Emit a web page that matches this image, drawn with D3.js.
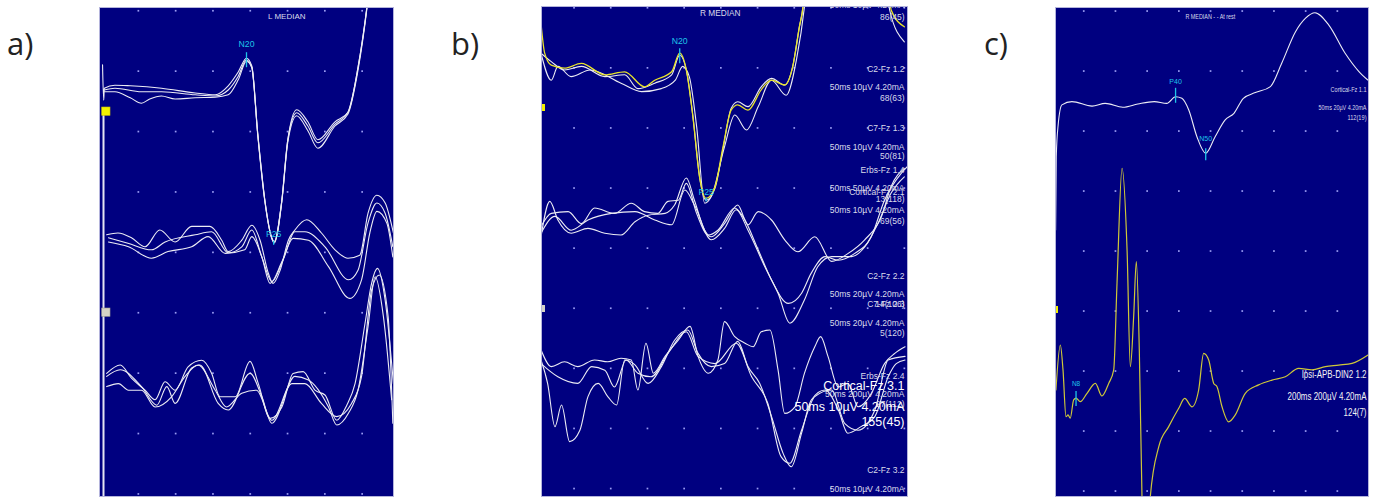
<!DOCTYPE html>
<html><head><meta charset="utf-8">
<script src="https://cdn.jsdelivr.net/npm/d3@7"></script>
<style>html,body{margin:0;padding:0;background:#fff;}svg{display:block;}</style>
</head><body>
<svg id="chart" width="1375" height="498"></svg>
<script>
// ---------------- DATA (time in ms, amplitude in µV) ----------------
// Panel a (L MEDIAN) – channel 1 (Cortical), 3 averaged traces
const aCh1T1 = [[0.6,4.7],[0.8,-1.2],[0.9,0.8],[2.7,1.3],[5.3,1.2],[10.6,0.8],[16.3,0],[19.7,-0.3],[21.9,1.2],[23.6,3.5],[25.0,5.8],[25.9,4.5],[26.9,-6.7],[28.1,-17.8],[29.3,-24.2],[29.7,-24.8],[31.0,-17.8],[32.0,-7.8],[33.5,-2.8],[35.4,-4.8],[37.1,-7.8],[40.0,-4.8],[42.2,-3.2],[43.9,4.3],[45.4,14.3],[46.3,22.2]];
const aCh1T2 = [[0.9,0.5],[2.7,0.8],[7.2,0.2],[10.6,0.2],[16.3,-0.3],[19.7,-0.5],[21.9,0.5],[23.6,2.8],[25.0,5.5],[25.9,4.3],[26.9,-6.7],[28.1,-17.8],[29.3,-24.2],[29.7,-24.8],[31.0,-17.8],[32.0,-7.8],[33.5,-3.3],[35.4,-5.5],[37.1,-8.3],[40.0,-5.2],[42.2,-3.2],[43.9,4.2],[45.4,14.2],[46.3,22.2]];
const aCh1T3 = [[0.9,0.2],[2.7,0.2],[5.3,-0.8],[7.2,-1.7],[8.6,-1.0],[10.6,-0.5],[12.9,-1.0],[16.3,-0.8],[19.7,-0.7],[21.9,-0.3],[23.6,2.2],[25.0,5.3],[25.9,4.2],[26.9,-7.0],[28.1,-18.0],[29.3,-24.3],[29.7,-25.0],[31.0,-18.0],[32.0,-8.2],[33.5,-3.8],[35.4,-6.3],[37.1,-9.2],[40.0,-5.5],[42.2,-3.5],[43.9,3.8],[45.4,14.0],[46.3,22.2]];
// Panel a – channel 2
const aCh2T1 = [[1.3,1.2],[3.2,1.5],[5.5,0.7],[7.8,-0.8],[10.3,2.0],[12.9,0.0],[15.7,2.6],[18.8,2.6],[20.8,0.3],[21.9,-1.6],[24.2,0.3],[25.9,2.8],[27.3,0.3],[28.7,-5.2],[29.5,-6.9],[30.7,-4.7],[32.1,0.3],[33.2,2.0],[35.2,3.7],[37.7,1.5],[40.0,-1.3],[42.2,-2.7],[44.2,-2.2],[45.6,4.8],[47.1,7.8],[48.5,6.5],[49.9,1.5]];
const aCh2T2 = [[1.6,0.7],[4.9,-0.2],[8.9,-1.3],[11.2,0.0],[16.3,1.2],[19.1,1.7],[21.9,-1.8],[24.2,-0.8],[25.9,2.0],[27.6,-2.5],[29.3,-6.6],[31.2,-3.0],[33.2,1.7],[34.9,1.7],[38.3,-0.8],[42.3,-6.3],[43.9,-4.7],[45.6,3.2],[47.1,6.5],[48.5,4.8],[49.8,-0.8]];
const aCh2T3 = [[1.6,0.0],[5.0,-0.8],[8.9,-2.7],[11.7,-1.6],[15.7,-0.8],[18.5,0.9],[21.4,-1.9],[24.7,-1.3],[25.9,0.9],[27.6,-2.5],[29.0,-6.9],[31.0,-3.3],[32.9,0.6],[35.5,0.3],[38.9,-4.1],[42.5,-9.4],[44.5,-6.3],[45.9,1.5],[47.1,5.1],[48.8,3.1],[49.8,-2.5]];
// Panel a – channel 3
const aCh3T1 = [[1.3,1.1],[3.6,2.5],[5.5,0.3],[7.8,-1.7],[9.5,-3.3],[11.2,-0.3],[12.9,-1.7],[15.1,2.2],[17.4,3.3],[19.1,1.1],[20.5,-2.8],[23.1,-2.8],[25.6,3.1],[27.0,-0.6],[29.0,-6.4],[31.0,-4.5],[32.9,1.1],[34.6,1.4],[36.6,-1.7],[38.3,-2.5],[40.3,-6.7],[42.0,-4.2],[43.4,-0.6],[45.1,9.5],[46.2,16.1],[47.2,18.6],[48.5,13.3],[49.9,-0.6]];
const aCh3T2 = [[1.3,0.6],[3.6,1.7],[7.2,-1.1],[9.8,-4.2],[11.5,-1.1],[12.9,-3.9],[15.7,2.0],[17.1,2.5],[20.2,-3.9],[21.9,-5.0],[25.6,1.1],[27.6,-2.8],[29.3,-7.2],[33.2,0.6],[35.5,0.0],[38.9,-4.5],[40.3,-7.5],[42.3,-5.5],[43.9,-1.7],[45.6,8.9],[46.8,17.2],[48.2,10.6],[49.6,-3.3]];
const aCh3T3 = [[1.3,-1.1],[3.3,-0.6],[5.0,-1.7],[7.2,-1.7],[9.5,-4.5],[12.3,-2.8],[14.6,0.6],[16.8,2.5],[19.7,-1.7],[21.6,-4.5],[24.2,-2.2],[26.7,-1.7],[29.3,-6.7],[32.7,-0.6],[34.9,-0.6],[37.7,-3.9],[40.3,-6.1],[42.8,-3.9],[44.5,0.6],[46.2,15.0],[47.5,17.5],[49.0,10.6],[49.8,-7.2]];

// Panel b (R MEDIAN) – channel 1: highlighted (yellow) trace + 2 white traces
const bCh1Y = [[0,7.8],[0.5,2.8],[1.4,0.8],[3.2,0.3],[5.5,1.1],[8.7,-0.8],[11.4,-0.3],[14.1,-2.8],[15.5,-1.7],[17.8,-0.3],[18.9,2.8],[19.8,0.0],[20.7,-7.8],[21.6,-17.8],[22.5,-21.4],[23.7,-19.5],[24.8,-12.8],[25.9,-6.7],[26.8,-5.8],[28.2,-6.7],[30.0,-3.3],[31.4,-1.7],[33.2,-2.5],[34.3,0.6],[35.2,7.2],[35.7,10.6],[36.1,16.7],[37,40],[46.6,40],[47.7,10.0],[49.5,7.2]];
const bCh1T1 = [[0,2.8],[1.4,1.4],[3.2,0.0],[5.5,0.6],[8.7,-1.1],[11.4,-0.8],[13.2,-3.1],[15.5,-2.2],[17.8,-0.8],[18.9,2.5],[19.8,0.0],[20.7,-7.8],[21.6,-17.8],[22.5,-21.7],[23.7,-19.7],[24.8,-13.1],[25.9,-6.4],[26.8,-5.3],[28.2,-6.1],[30.0,-2.8],[31.4,-1.4],[33.2,-2.5],[34.3,0.6],[35.2,7.2],[35.7,10.6],[36.1,16.7],[37,40],[46.4,40],[47.5,10.0],[49.5,4.7]];
const bCh1T2 = [[0,2.8],[1.4,-1.7],[2.3,0.6],[4.1,-1.1],[6.7,0.0],[10.9,-2.2],[13.7,-3.6],[16.4,-3.1],[18.3,-1.7],[19.3,0.6],[20.2,-1.1],[21.2,-9.4],[22.3,-22.2],[23.2,-21.1],[25.0,-12.8],[26.4,-7.5],[28.0,-10.0],[29.6,-6.1],[31.4,-1.7],[33.4,-4.2],[34.8,1.7],[35.9,10.6],[36.4,16.7],[37.2,40]];
// Panel b – channel 2
const bCh2T1 = [[0.0,-2.8],[1.2,3.1],[2.3,0.0],[4.1,-2.2],[6.4,-1.4],[8.7,-2.2],[10.9,-2.5],[12.8,-0.3],[14.6,0.8],[16.9,1.1],[18.2,2.5],[19.8,7.0],[20.9,3.3],[22.3,-1.7],[23.2,-2.8],[25.0,-0.6],[26.8,2.5],[28.2,-0.8],[29.6,1.4],[31.4,0.0],[33.2,-3.3],[35.0,-5.3],[37.3,-2.8],[39.6,-6.9],[41.8,-5.6],[44.1,-3.3],[46.4,0.6],[47.7,5.6],[49.5,8.6]];
const bCh2T2 = [[0.0,-1.1],[1.4,1.1],[3.7,1.4],[5.5,-0.6],[7.3,2.0],[10.0,1.1],[12.3,2.8],[14.1,1.4],[15.9,1.1],[17.3,3.1],[18.7,3.3],[19.8,6.1],[21.2,1.1],[22.8,-2.5],[24.1,-1.7],[26.4,2.0],[27.5,0.6],[29.6,-5.0],[31.4,-10.0],[33.7,-13.9],[35.5,-12.2],[36.8,-8.9],[38.7,-6.1],[40.5,-6.7],[42.7,-5.6],[45.0,-2.8],[46.8,3.3],[49.1,7.8],[50,9]];
const bCh2T3 = [[0.0,-2.2],[1.9,0.6],[4.1,-1.7],[6.4,0.0],[9.6,1.1],[12.8,1.4],[15.5,0.0],[17.8,-0.8],[19.6,5.0],[20.9,2.5],[23.2,-3.3],[25.0,-1.4],[26.6,1.7],[28.2,-1.7],[30.5,-7.8],[32.3,-12.2],[33.9,-17.2],[35.9,-13.3],[37.7,-7.8],[39.6,-6.1],[42.3,-6.1],[44.1,-4.5],[45.9,-0.6],[47.7,4.5],[49.5,7.2]];
// Panel b – channel 3
const bCh3T1 = [[0.0,1.7],[1.4,-1.1],[3.2,-0.3],[5.0,-1.1],[7.3,0.0],[9.1,-0.3],[10.9,0.3],[12.3,0.0],[13.2,-5.0],[14.3,2.8],[15.3,-2.2],[16.9,0.6],[18.7,3.3],[20.3,5.6],[21.4,0.6],[22.8,-2.2],[24.1,0.0],[25.0,6.4],[26.4,3.9],[27.8,2.8],[28.9,2.2],[30.0,4.7],[31.2,5.0],[32.3,-1.7],[33.2,-8.9],[34.6,-7.8],[35.9,-2.2],[37.3,2.2],[38.1,3.9],[39.1,0.6],[40.5,-4.5],[41.8,-3.9],[43.2,-7.8],[45.0,-5.6],[46.8,-0.6],[48.2,1.1],[49.6,2.2]];
const bCh3T2 = [[0.0,0.0],[0.9,-3.9],[1.9,-11.1],[2.8,-7.5],[3.9,-13.6],[5.3,-11.7],[6.4,-6.1],[7.8,-3.9],[9.1,-6.1],[10.3,-7.5],[11.4,0.0],[12.8,-0.8],[14.6,-3.9],[16.4,-1.1],[18.2,3.3],[20.0,5.0],[21.4,1.1],[23.2,-1.1],[25.0,-0.6],[26.8,3.1],[28.2,-1.1],[29.8,-3.9],[31.4,-9.4],[33.0,-15.6],[34.1,-17.8],[35.5,-12.2],[36.8,-6.7],[38.7,-5.0],[40.5,-8.3],[41.8,-12.2],[43.6,-11.1],[45.5,-9.4],[47.3,-2.8],[48.4,-0.6],[49.6,0.0]];
const bCh3T3 = [[0.0,-0.6],[2.3,-2.8],[5.0,-3.9],[6.9,-1.1],[8.7,-1.7],[10.0,-4.5],[11.6,0.0],[13.2,-2.2],[15.0,-2.8],[17.3,1.1],[19.8,4.7],[21.4,0.6],[23.7,-0.6],[26.6,2.8],[28.7,-2.8],[30.9,-7.2],[32.7,-16.1],[33.9,-17.2],[35.5,-11.7],[37.3,-6.1],[39.6,-5.0],[41.4,-10.6],[43.2,-11.7],[45.5,-8.3],[47.3,0.0],[49.6,0.6]];

// Panel c (R MEDIAN - - At rest) – Cortical-Fz (50 ms, 20 µV/div)
const cCh1 = [[0.1,-42],[0.2,-17.6],[0.5,-7.0],[1.1,-0.3],[2.7,0.8],[5.9,-0.7],[8.0,0.2],[10.8,-1.1],[13.2,0.0],[15.8,0.8],[17.8,0.2],[19.2,2.4],[20.2,1.9],[21.3,-2.0],[22.6,-10.9],[24.0,-16.4],[25.5,-10.9],[27.1,-5.3],[28.5,-3.1],[30.0,1.9],[31.9,3.8],[34.3,5.8],[36.1,13.6],[38.3,24.1],[39.9,28.6],[41.4,30.4],[43.6,26.3],[46.2,16.9],[48.4,10.8],[49.8,8.0]];
// Panel c – Ipsi-APB-DIN2 (200 ms, 200 µV/div)
const cCh2 = [[0.6,0],[3.4,150],[5.1,67],[7.0,-89],[8.3,-83],[9.7,-94],[11.9,-33],[13.4,-27],[16.1,-39],[20.4,-11],[25.7,22],[29.9,-20],[34.2,22],[37.4,67],[39.5,356],[42.7,739],[45.9,467],[48.0,78],[50.1,244],[51.8,428],[53.7,133],[55.4,-356],[56.7,-600],[59.2,-600],[60.7,-356],[66.1,-189],[72.4,-122],[78.8,-61],[82.6,-28],[87.3,-56],[91.5,0],[94.7,122],[97.9,100],[101.1,22],[103.2,11],[106.4,-56],[110.6,-106],[114.8,-83],[121.2,-11],[129.7,17],[138.2,33],[146.7,44],[155.2,72],[163.7,67],[172.2,78],[180.7,83],[189.2,89],[199.4,117]];

// Peak markers (label, time ms, amplitude µV)
const aPeaks = [["N20",25.0,5.8],["P25",29.6,-24.8]];
const bPeaks = [["N20",18.9,2.8],["P25",22.5,-21.4]];
const cPeaksTop = [["P40",19.2,2.4],["N50",24.0,-16.4]];
const cPeaksBottom = [["N8",13.4,-27]];

// Texts
const panelLetters = ["a)","b)","c)"];
const panelTitles = ["L MEDIAN","R MEDIAN","R MEDIAN - - At rest"];
const bSmallTexts = ["50ms 10µV 4.20mA","86(45)","C2-Fz 1.2","50ms 10µV 4.20mA","68(63)","C7-Fz 1.3","50ms 10µV 4.20mA","50(81)","Erbs-Fz 1.4","50ms 50µV 4.20mA","Cortical-Fz 2.1","13(118)","50ms 10µV 4.20mA","69(56)","C2-Fz 2.2","50ms 20µV 4.20mA","C7-Fz 2.3","14(106)","50ms 20µV 4.20mA","5(120)","Erbs-Fz 2.4","50ms 200µV 4.20mA","27(112)","C2-Fz 3.2","50ms 10µV 4.20mA","87(29)"];
const bBigTexts = ["Cortical-Fz 3.1","50ms 10µV 4.20mA","155(45)"];
const cTopTexts = ["Cortical-Fz 1.1","50ms 20µV 4.20mA","112(19)"];
const cBottomTexts = ["Ipsi-APB-DIN2 1.2","200ms 200µV 4.20mA","124(7)"];

// ---------------- LAYOUT ----------------
const BG = "#000080", TRACE = "#ececf4", CYAN = "#1fc4e8", TXT = "#dadaea", DOT = "#9a9cf2";
const FONT = "'Liberation Sans', Arial, sans-serif";
const P = {
  a:{x:99,y:7,w:295,h:490, gx0:138.3,gdx:37.3,gnx:7, gy0:10.7,gdy:60.4,gny:9},
  b:{x:541,y:6,w:367,h:491, gx0:574,gdx:36.7,gnx:10, gy0:7.7,gdy:60.1,gny:9},
  c:{x:1055,y:7,w:314,h:490, gx0:1083.7,gdx:31.7,gnx:9, gy0:11,gdy:60,gny:9}
};
const bSmallY = [8,20.3,72.3,90.3,100.7,131.3,149.7,159,173.3,191.3,194.7,202.3,213,223.7,279,297.3,307,307,325.7,336.3,379,397,407,473,492,503];
const bBigY = [389.5,410.5,426];
const cTopY = [92,110,120], cTopW = [36,48,19];
const cBotY = [378,399.5,416], cBotW = [65,79,23];
const cTextRight = 1366.5;

const svg = d3.select("#chart");
const defs = svg.append("defs");

function makePanel(key){
  const p = P[key];
  defs.append("clipPath").attr("id","clip-"+key).append("rect")
    .attr("x",p.x).attr("y",p.y).attr("width",p.w).attr("height",p.h);
  const g = svg.append("g");
  g.append("rect").attr("x",p.x).attr("y",p.y).attr("width",p.w).attr("height",p.h).attr("fill",BG);
  const inner = g.append("g").attr("clip-path",`url(#clip-${key})`);
  const dots = [];
  d3.range(p.gnx).forEach(i => d3.range(p.gny).forEach(j => dots.push([p.gx0+i*p.gdx, p.gy0+j*p.gdy])));
  inner.selectAll("rect.dot").data(dots).join("rect").attr("class","dot")
    .attr("x",d=>d[0]-0.8).attr("y",d=>d[1]-0.8).attr("width",1.7).attr("height",1.7).attr("fill",DOT);
  return {g, inner, p};
}
function drawTrace(layer, data, xs, ys, color, w){
  layer.append("path").datum(data)
    .attr("d", d3.line().x(d=>xs(d[0])).y(d=>ys(d[1])).curve(d3.curveMonotoneX))
    .attr("fill","none").attr("stroke",color).attr("stroke-width",w||1.1)
    .attr("stroke-linejoin","round").attr("stroke-linecap","round");
}
function drawPeaks(layer, peaks, xs, ys, lab, tickTop, tickBot, size){
  peaks.forEach(([name,t,v]) => {
    const px = xs(t), py = ys(v);
    layer.append("line").attr("x1",px).attr("x2",px).attr("y1",py+tickTop).attr("y2",py+tickBot)
      .attr("stroke",CYAN).attr("stroke-width",1.3);
    layer.append("text").attr("x",px).attr("y",py+lab).attr("text-anchor","middle")
      .attr("font-family",FONT).attr("font-size",size).attr("fill",CYAN).text(name);
  });
}
// condensed text: right edge at xr, squeezed horizontally to width w
function condensed(layer, txt, xr, y, w, size, color){
  const t = layer.append("text").attr("x",0).attr("y",0).attr("text-anchor","end")
    .attr("font-family",FONT).attr("font-size",size).attr("fill",color).text(txt);
  const nat = t.node().getComputedTextLength() || w;
  const sx = Math.min(1, w/nat);
  t.attr("transform",`translate(${xr},${y}) scale(${sx},1)`);
}
function border(g,p){
  g.append("rect").attr("x",p.x+0.5).attr("y",p.y+0.5).attr("width",p.w-1).attr("height",p.h-1)
    .attr("fill","none").attr("stroke","#b4b4dc").attr("stroke-width",1);
}

// ---------- Panel a ----------
{
  const {g, inner, p} = makePanel("a");
  const x = d3.scaleLinear([0,50],[p.x, p.x+p.w]);
  const bases = [93,242,380];
  const ys = bases.map(b => d3.scaleLinear([0,10],[b, b-60]));
  inner.append("line").attr("x1",103.5).attr("x2",103.5).attr("y1",108).attr("y2",497)
    .attr("stroke","#e4e4f2").attr("stroke-width",2);
  [aCh1T3,aCh1T2,aCh1T1].forEach(d=>drawTrace(inner,d,x,ys[0],TRACE));
  [aCh2T3,aCh2T2,aCh2T1].forEach(d=>drawTrace(inner,d,x,ys[1],TRACE));
  [aCh3T3,aCh3T2,aCh3T1].forEach(d=>drawTrace(inner,d,x,ys[2],TRACE));
  inner.append("rect").attr("x",101.7).attr("y",107).attr("width",8.3).attr("height",8.3).attr("fill","#f2f000").attr("stroke","#c8c000").attr("stroke-width",0.6);
  inner.append("rect").attr("x",101.7).attr("y",308).attr("width",8.3).attr("height",8.3).attr("fill","#d4d2c6").attr("stroke","#a09e90").attr("stroke-width",0.6);
  drawPeaks(inner,[aPeaks[0]],x,ys[0],-11,-6,9,8.7);
  drawPeaks(inner,[aPeaks[1]],x,ys[0],-5,-1,3,8.7);
  inner.append("text").attr("x",286.8).attr("y",19).attr("text-anchor","middle").attr("font-family",FONT)
    .attr("font-size",8).attr("fill",TXT).text(panelTitles[0]);
  border(g,p);
}

// ---------- Panel b ----------
{
  const {g, inner, p} = makePanel("b");
  const x = d3.scaleLinear([0,50],[p.x, p.x+p.w]);
  const bases = [70,220,360];
  const ys = bases.map(b => d3.scaleLinear([0,10],[b, b-60]));
  [bCh2T3,bCh2T2,bCh2T1].forEach(d=>drawTrace(inner,d,x,ys[1],TRACE));
  [bCh3T3,bCh3T2,bCh3T1].forEach(d=>drawTrace(inner,d,x,ys[2],TRACE));
  [bCh1T2,bCh1T1].forEach(d=>drawTrace(inner,d,x,ys[0],TRACE));
  drawTrace(inner,bCh1Y,x,ys[0],"#e8e42a",1.3);
  inner.append("rect").attr("x",537).attr("y",104).attr("width",8).attr("height",7).attr("fill","#f2f000");
  inner.append("rect").attr("x",537).attr("y",305).attr("width",8).attr("height",7).attr("fill","#d4d2c6");
  drawPeaks(inner,[bPeaks[0]],x,ys[0],-9,-5,10,8.7);
  drawPeaks(inner,[bPeaks[1]],x,ys[0],-3.5,-1,3,8.7);
  inner.append("text").attr("x",720.3).attr("y",15.7).attr("text-anchor","middle").attr("font-family",FONT)
    .attr("font-size",8.3).attr("fill",TXT).text(panelTitles[1]);
  inner.selectAll("text.small").data(bSmallTexts).join("text").attr("class","small")
    .attr("x",904.5).attr("y",(d,i)=>bSmallY[i]).attr("text-anchor","end")
    .attr("font-family",FONT).attr("font-size",8.5).attr("fill",TXT).text(d=>d);
  inner.selectAll("text.big").data(bBigTexts).join("text").attr("class","big")
    .attr("x",904.5).attr("y",(d,i)=>bBigY[i]).attr("text-anchor","end")
    .attr("font-family",FONT).attr("font-size",12.5).attr("fill","#ffffff").text(d=>d);
  border(g,p);
}

// ---------- Panel c ----------
{
  const {g, inner, p} = makePanel("c");
  const x1 = d3.scaleLinear([0,50],[p.x, p.x+p.w]);
  const y1 = d3.scaleLinear([0,20],[104,44]);
  const x2 = d3.scaleLinear([0,200],[p.x, p.x+p.w]);
  const y2 = d3.scaleLinear([0,200],[390,330]);
  drawTrace(inner,cCh1,x1,y1,TRACE,1.1);
  drawTrace(inner,cCh2,x2,y2,"#cfc838",1.2);
  inner.append("rect").attr("x",1053).attr("y",306).attr("width",5).attr("height",7).attr("fill","#f2f000");
  drawPeaks(inner,[cPeaksTop[0]],x1,y1,-13,-9,6,7);
  drawPeaks(inner,[cPeaksTop[1]],x1,y1,-12,-5,7,7);
  drawPeaks(inner,cPeaksBottom,x2,y2,-12,-7,8,6.5);
  condensed(inner, panelTitles[2], 1235.3, 19, 50, 7.5, TXT);
  cTopTexts.forEach((t,i)=>condensed(inner, t, cTextRight, cTopY[i], cTopW[i], 7.5, TXT));
  cBottomTexts.forEach((t,i)=>condensed(inner, t, cTextRight, cBotY[i], cBotW[i], 10.5, "#f4f4f4"));
  border(g,p);
}

// ---------- Panel letters ----------
const letterX = [7,451,984];
svg.selectAll("text.letter").data(panelLetters).join("text").attr("class","letter")
  .attr("x",(d,i)=>letterX[i]).attr("y",55).attr("font-family","'Open Sans', 'Liberation Sans', sans-serif")
  .attr("font-size",31).attr("fill","#222").text(d=>d);
</script>
</body></html>
